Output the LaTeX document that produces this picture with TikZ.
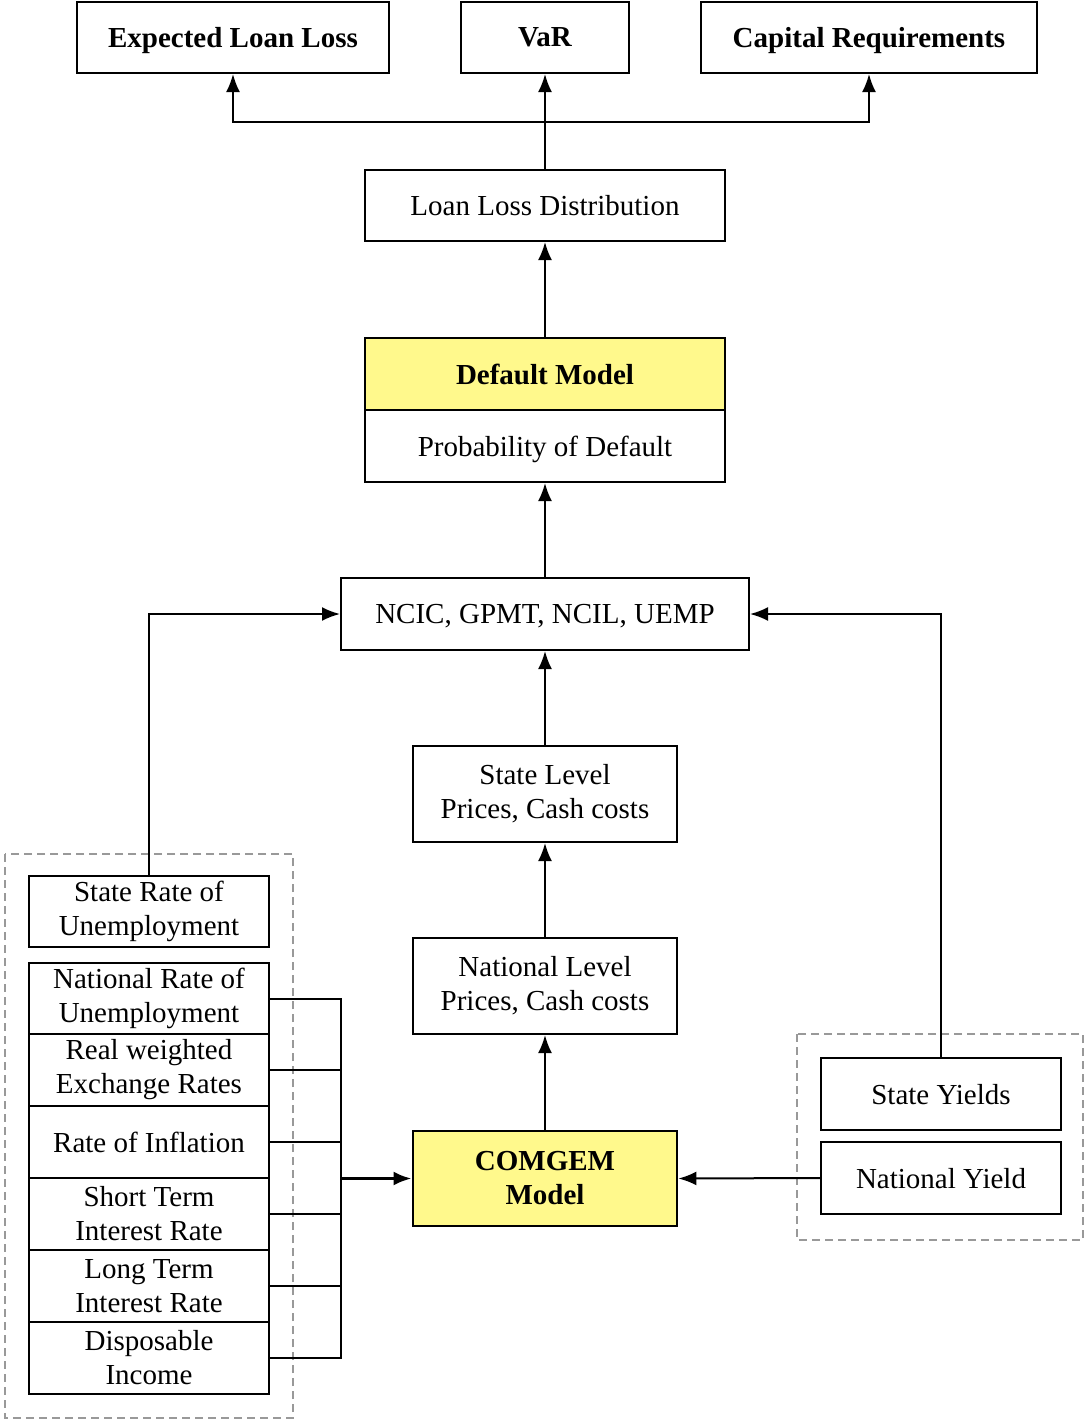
\documentclass[tikz,border=0pt]{standalone}
\usepackage{fontspec}
\setmainfont{Liberation Serif}
\usetikzlibrary{arrows.meta}
\begin{document}
\begin{tikzpicture}[x=1pt,y=-1pt,
  box/.style={draw=black, line width=2pt, fill=white, inner sep=0pt, align=center,
     font=\fontsize{29}{34}\selectfont},
  boldbox/.style={box, font=\fontsize{29}{34}\selectfont\bfseries},
  oneline/.style={text depth=0pt},
  yel/.style={fill=yellow!45},
  arr/.style={line width=2pt, -{Latex[length=18pt,width=14pt]}},
  ln/.style={line width=2pt},
  grp/.style={draw=gray!80, line width=1.6pt, dash pattern=on 8pt off 5pt}]
\useasboundingbox (0,0) rectangle (1085,1422);
% dashed groups
\draw[grp] (5,854) rectangle (293,1418);
\draw[grp] (797,1034) rectangle (1083,1240);
% top row
\node[boldbox, oneline, minimum width=312pt, minimum height=71pt] (ell) at (233,37.5) {Expected Loan Loss};
\node[boldbox, oneline, minimum width=168pt, minimum height=71pt] (var) at (545,37.5) {VaR};
\node[boldbox, oneline, minimum width=336pt, minimum height=71pt] (cap) at (869,37.5) {Capital Requirements};
\node[box, oneline, minimum width=360pt, minimum height=71pt] (lld) at (545,205.5) {Loan Loss Distribution};
\node[boldbox, oneline, yel, minimum width=360pt, minimum height=72pt] (dm) at (545,374) {Default Model};
\node[box, oneline, minimum width=360pt, minimum height=72pt] (pd) at (545,446) {Probability of Default};
\node[box, oneline, minimum width=408pt, minimum height=72pt] (ncic) at (545,614) {NCIC, GPMT, NCIL, UEMP};
\node[box, minimum width=264pt, minimum height=96pt] (slp) at (545,794) {State Level\\Prices, Cash costs};
\node[box, minimum width=264pt, minimum height=96pt] (nlp) at (545,986) {National Level\\Prices, Cash costs};
\node[boldbox, yel, line width=2.8pt, minimum width=264pt, minimum height=95pt] (cg) at (545,1178.5) {COMGEM\\Model};
% left stack
\node[box, minimum width=240pt, minimum height=71pt] (sru) at (149,911.5) {State Rate of\\Unemployment};
\node[box, minimum width=240pt, minimum height=71pt] (nru) at (149,998.5) {National Rate of\\Unemployment};
\node[box, minimum width=240pt, minimum height=72pt] (rwe) at (149,1070) {Real weighted\\Exchange Rates};
\node[box, oneline, minimum width=240pt, minimum height=72pt] (roi) at (149,1142) {Rate of Inflation};
\node[box, minimum width=240pt, minimum height=72pt] (sti) at (149,1214) {Short Term\\Interest Rate};
\node[box, minimum width=240pt, minimum height=72pt] (lti) at (149,1286) {Long Term\\Interest Rate};
\node[box, minimum width=240pt, minimum height=72pt] (dpi) at (149,1358) {Disposable\\Income};
% right group
\node[box, oneline, minimum width=240pt, minimum height=72pt] (sy) at (941,1094) {State Yields};
\node[box, oneline, minimum width=240pt, minimum height=72pt] (ny) at (941,1178) {National Yield};
% connectors top
\coordinate (hub) at (545,122);
\draw[arr] (lld.north) -- (var.south);
\draw[arr] (hub) -| (ell.south);
\draw[arr] (hub) -| (cap.south);
\draw[arr] (dm.north) -- (lld.south);
\draw[arr] (ncic.north) -- (pd.south);
\draw[arr] (slp.north) -- (ncic.south);
\draw[arr] (nlp.north) -- (slp.south);
\draw[arr] (cg.north) -- (nlp.south);
\draw[arr] (sru.north) |- (ncic.west);
\draw[arr] (sy.north) |- (ncic.east);
\draw[arr] (ny.west) -- (cg.east);
% bracket
\coordinate (bus) at (341,1178.5);
\draw[ln] (nru.east) -| (bus);
\draw[ln] (dpi.east) -| (bus);
\draw[ln] (rwe.east) -- (rwe.east -| bus);
\draw[ln] (roi.east) -- (roi.east -| bus);
\draw[ln] (sti.east) -- (sti.east -| bus);
\draw[ln] (lti.east) -- (lti.east -| bus);
\draw[line width=3.2pt, -{Latex[length=18pt,width=14pt]}] (bus) -- (cg.west);
\end{tikzpicture}
\end{document}
